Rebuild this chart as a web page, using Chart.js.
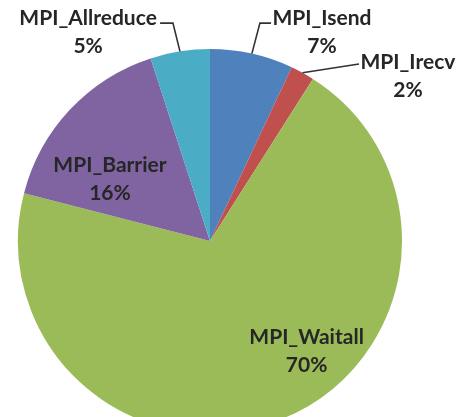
<!DOCTYPE html>
<html>
<head>
<meta charset="utf-8">
<script src="https://cdn.jsdelivr.net/npm/chart.js@4"></script>
<style>
  html, body { margin: 0; padding: 0; background: #fff; overflow: hidden; }
  #wrap { position: relative; width: 462px; height: 482px; }
</style>
</head>
<body>
<div id="wrap"><canvas id="pie"></canvas></div>
<script>
// time spent per MPI call, percent of total
const calls = ["MPI_Isend", "MPI_Irecv", "MPI_Waitall", "MPI_Barrier", "MPI_Allreduce"];
const shares = [7, 2, 70, 16, 5];
const colors = ["#4F81BD", "#C0504D", "#9BBB59", "#8064A2", "#4BACC6"];

// label centres in pie radii from the centre; outside labels get a leader line
// whose elbow/end points are also in radii
const spots = [
  { x: 0.583, y: -1.089, leader: [[0.260, -1.135], [0.318, -1.135]] },
  { x: 1.031, y: -0.857, leader: [[0.776, -0.922]] },
  { x: 0.503, y: 0.573 },
  { x: -0.521, y: -0.323 },
  { x: -0.635, y: -1.089, leader: [[-0.193, -1.135], [-0.26, -1.135]] }
];

const total = shares.reduce((a, b) => a + b, 0);

const sliceLabels = {
  id: "sliceLabels",
  afterDatasetsDraw(chart) {
    const ctx = chart.ctx;
    const arcs = chart.getDatasetMeta(0).data;
    ctx.save();
    ctx.font = "bold 21px Lato";
    ctx.fillStyle = "#262626";
    ctx.textAlign = "center";
    ctx.textBaseline = "middle";
    arcs.forEach((arc, i) => {
      const r = arc.outerRadius;
      const s = spots[i];
      if (s.leader) {
        const mid = (arc.startAngle + arc.endAngle) / 2;
        ctx.beginPath();
        ctx.moveTo(arc.x + Math.cos(mid) * r, arc.y + Math.sin(mid) * r);
        s.leader.forEach(p => ctx.lineTo(arc.x + p[0] * r, arc.y + p[1] * r));
        ctx.strokeStyle = "#333";
        ctx.lineWidth = 1.6;
        ctx.stroke();
      }
      const lx = arc.x + s.x * r;
      const ly = arc.y + s.y * r;
      ctx.fillText(calls[i], lx, ly - 14);
      ctx.fillText(Math.round(shares[i] / total * 100) + "%", lx, ly + 14);
    });
    ctx.restore();
  }
};

new Chart(document.getElementById("pie"), {
  type: "pie",
  data: {
    labels: calls,
    datasets: [{
      data: shares,
      backgroundColor: colors,
      borderWidth: 0
    }]
  },
  options: {
    responsive: true,
    maintainAspectRatio: false,
    animation: false,
    layout: { padding: { left: 18, right: 60, top: 49, bottom: 49 } },
    plugins: {
      legend: { display: false },
      tooltip: { enabled: false }
    }
  },
  plugins: [sliceLabels]
});
</script>
</body>
</html>
